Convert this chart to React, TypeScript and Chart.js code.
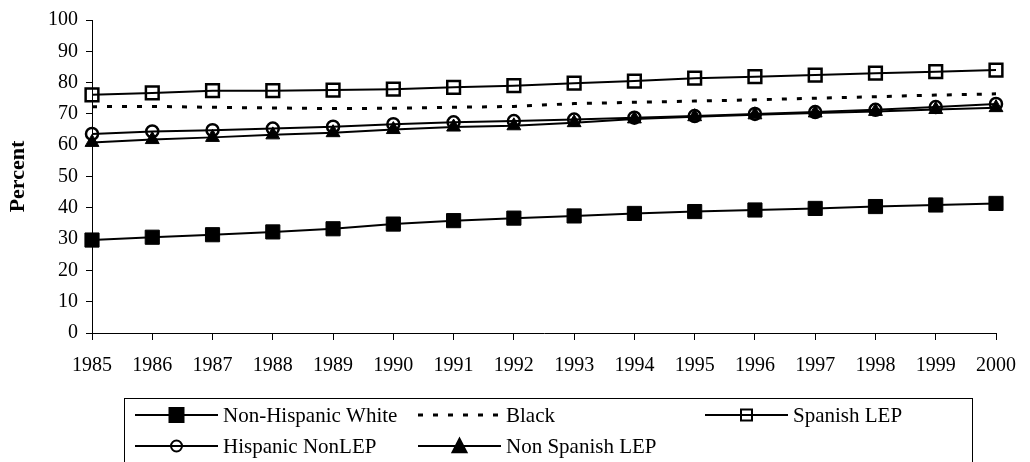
import React, { useEffect, useRef } from "react";
import { Chart, registerables } from "chart.js";

Chart.register(...registerables);

const years = ["1985", "1986", "1987", "1988", "1989", "1990", "1991", "1992", "1993", "1994", "1995", "1996", "1997", "1998", "1999", "2000"];
const nonHispanicWhite = [29.7, 30.6, 31.4, 32.3, 33.3, 34.8, 35.9, 36.7, 37.4, 38.2, 38.8, 39.3, 39.8, 40.4, 40.9, 41.4];
const black = [72.3, 72.4, 72.1, 71.9, 71.7, 71.8, 72.1, 72.4, 73.3, 73.7, 74.1, 74.5, 75.0, 75.5, 76.0, 76.4];
const spanishLEP = [76.1, 76.7, 77.4, 77.4, 77.6, 77.9, 78.5, 79.0, 79.8, 80.5, 81.4, 81.9, 82.4, 83.0, 83.5, 84.0];
const hispanicNonLEP = [63.6, 64.4, 64.8, 65.3, 65.9, 66.7, 67.3, 67.7, 68.2, 68.8, 69.3, 70.0, 70.6, 71.3, 72.2, 73.2];
const nonSpanishLEP = [60.9, 61.8, 62.5, 63.3, 64.0, 65.0, 65.8, 66.2, 67.2, 68.4, 69.1, 69.7, 70.3, 70.8, 71.4, 72.0];
const seriesNames = ["Non-Hispanic White", "Black", "Spanish LEP", "Hispanic NonLEP", "Non Spanish LEP"];

const FONT = "'Liberation Serif', 'Times New Roman', serif";

function drawMarker(ctx: CanvasRenderingContext2D, style: string, x: number, y: number, size: number, filled: boolean) {
  ctx.save();
  ctx.beginPath();
  if (style === "rect") {
    ctx.rect(x - size / 2, y - size / 2, size, size);
  } else if (style === "circle") {
    ctx.arc(x, y, size / 2, 0, Math.PI * 2);
  } else if (style === "triangle") {
    const h = size * 0.9;
    ctx.moveTo(x, y - h / 2 - 1);
    ctx.lineTo(x + size / 2, y + h / 2);
    ctx.lineTo(x - size / 2, y + h / 2);
    ctx.closePath();
  }
  ctx.lineWidth = 2;
  ctx.strokeStyle = "#000";
  if (filled) {
    ctx.fillStyle = "#000";
    ctx.fill();
  }
  ctx.stroke();
  ctx.restore();
}

const legendPlugin = {
  id: "boxLegend",
  afterDraw(chart: any) {
    const ctx: CanvasRenderingContext2D = chart.ctx;
    ctx.save();
    ctx.strokeStyle = "#000";
    ctx.lineWidth = 1;
    ctx.strokeRect(124.5, 398.5, 848, 100);
    const slots = [
      [135, 415],
      [418, 415],
      [705, 415],
      [135, 446],
      [418, 446],
    ];
    const markers = [
      { style: "rect", size: 14, filled: true },
      { style: "none", size: 0, filled: false },
      { style: "rect", size: 11, filled: false },
      { style: "circle", size: 11, filled: false },
      { style: "triangle", size: 14, filled: true },
    ];
    chart.data.datasets.forEach((ds: any, i: number) => {
      const [x0, y] = slots[i];
      const len = 83;
      ctx.save();
      ctx.strokeStyle = "#000";
      if (ds.borderDash && ds.borderDash.length) {
        ctx.setLineDash([5, 10]);
        ctx.lineWidth = 3;
      } else {
        ctx.lineWidth = 2;
      }
      ctx.beginPath();
      ctx.moveTo(x0, y);
      ctx.lineTo(x0 + len, y);
      ctx.stroke();
      ctx.restore();
      const m = markers[i];
      if (m.style !== "none") drawMarker(ctx, m.style, x0 + len / 2, y, m.size, m.filled);
      ctx.fillStyle = "#000";
      ctx.font = `21px ${FONT}`;
      ctx.textBaseline = "middle";
      ctx.textAlign = "left";
      ctx.fillText(ds.label, x0 + len + 5, y + 1);
    });
    ctx.restore();
  },
};

export default function App() {
  const ref = useRef<HTMLCanvasElement>(null);
  useEffect(() => {
    if (!ref.current) return;
    const chart = new Chart(ref.current, {
      type: "line",
      data: {
        labels: years,
        datasets: [
          {
            label: seriesNames[0],
            data: nonHispanicWhite,
            borderColor: "#000",
            borderWidth: 2,
            pointStyle: "rect",
            pointRadius: 10,
            pointBackgroundColor: "#000",
            pointBorderColor: "#000",
            pointBorderWidth: 1,
            fill: false,
          },
          {
            label: seriesNames[1],
            data: black,
            borderColor: "#000",
            borderWidth: 3,
            borderDash: [5, 10],
            pointRadius: 0,
            fill: false,
          },
          {
            label: seriesNames[2],
            data: spanishLEP,
            borderColor: "#000",
            borderWidth: 2,
            pointStyle: "rect",
            pointRadius: 9,
            pointBackgroundColor: "rgba(0,0,0,0)",
            pointBorderColor: "#000",
            pointBorderWidth: 2.5,
            fill: false,
          },
          {
            label: seriesNames[3],
            data: hispanicNonLEP,
            borderColor: "#000",
            borderWidth: 2,
            pointStyle: "circle",
            pointRadius: 6,
            pointBackgroundColor: "rgba(0,0,0,0)",
            pointBorderColor: "#000",
            pointBorderWidth: 2.5,
            fill: false,
          },
          {
            label: seriesNames[4],
            data: nonSpanishLEP,
            borderColor: "#000",
            borderWidth: 2,
            pointStyle: "triangle",
            pointRadius: 8,
            pointBackgroundColor: "#000",
            pointBorderColor: "#000",
            pointBorderWidth: 1,
            fill: false,
          },
        ],
      },
      options: {
        responsive: false,
        animation: false,
        events: [],
        layout: { padding: { left: 0, right: 32, top: 16, bottom: 0 } },
        plugins: {
          legend: { display: false },
          tooltip: { enabled: false },
        },
        scales: {
          x: {
            type: "category",
            offset: false,
            grid: {
              display: true,
              drawOnChartArea: false,
              drawTicks: true,
              tickLength: 7,
              color: "#000",
              lineWidth: 1,
            },
            border: { display: true, color: "#000", width: 1 },
            ticks: {
              color: "#000",
              font: { family: FONT, size: 20 },
              padding: 14,
              maxRotation: 0,
              autoSkip: false,
            },
            afterFit: (scale: any) => {
              scale.height = 129;
            },
          },
          y: {
            min: 0,
            max: 100,
            grid: {
              display: true,
              drawOnChartArea: false,
              drawTicks: true,
              tickLength: 6,
              color: "#000",
              lineWidth: 1,
            },
            border: { display: true, color: "#000", width: 1 },
            ticks: {
              stepSize: 10,
              color: "#000",
              font: { family: FONT, size: 20 },
              padding: 8,
            },
            title: {
              display: true,
              text: "Percent",
              color: "#000",
              font: { family: FONT, size: 22, weight: "bold" },
              padding: { top: 5, bottom: 0 },
            },
            afterFit: (scale: any) => {
              scale.width = 92;
            },
          },
        },
      },
      plugins: [legendPlugin],
    } as any);
    return () => chart.destroy();
  }, []);
  return (
    <div style={{ position: "absolute", left: 0, top: 0, width: 1030, height: 462, background: "#fff" }}>
      <canvas ref={ref} width={1030} height={462} style={{ display: "block" }} />
    </div>
  );
}
